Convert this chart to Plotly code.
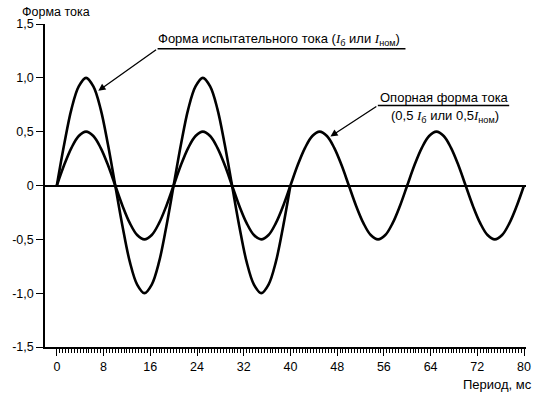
import plotly.graph_objects as go

# ---- data ----
t_ref = [0, 1.25, 2.5, 3.75, 5, 6.25, 7.5, 8.75, 10, 11.25, 12.5, 13.75, 15, 16.25, 17.5, 18.75,
         20, 21.25, 22.5, 23.75, 25, 26.25, 27.5, 28.75, 30, 31.25, 32.5, 33.75, 35, 36.25, 37.5, 38.75,
         40, 41.25, 42.5, 43.75, 45, 46.25, 47.5, 48.75, 50, 51.25, 52.5, 53.75, 55, 56.25, 57.5, 58.75,
         60, 61.25, 62.5, 63.75, 65, 66.25, 67.5, 68.75, 70, 71.25, 72.5, 73.75, 75, 76.25, 77.5, 78.75, 80]
i_ref = [0, 0.19, 0.35, 0.46, 0.5, 0.46, 0.35, 0.19, 0, -0.19, -0.35, -0.46, -0.5, -0.46, -0.35, -0.19,
         0, 0.19, 0.35, 0.46, 0.5, 0.46, 0.35, 0.19, 0, -0.19, -0.35, -0.46, -0.5, -0.46, -0.35, -0.19,
         0, 0.19, 0.35, 0.46, 0.5, 0.46, 0.35, 0.19, 0, -0.19, -0.35, -0.46, -0.5, -0.46, -0.35, -0.19,
         0, 0.19, 0.35, 0.46, 0.5, 0.46, 0.35, 0.19, 0, -0.19, -0.35, -0.46, -0.5, -0.46, -0.35, -0.19, 0]
t_test = [0, 1.25, 2.5, 3.75, 5, 6.25, 7.5, 8.75, 10, 11.25, 12.5, 13.75, 15, 16.25, 17.5, 18.75,
          20, 21.25, 22.5, 23.75, 25, 26.25, 27.5, 28.75, 30, 31.25, 32.5, 33.75, 35, 36.25, 37.5, 38.75, 40]
i_test = [0, 0.38, 0.71, 0.92, 1.0, 0.92, 0.71, 0.38, 0, -0.38, -0.71, -0.92, -1.0, -0.92, -0.71, -0.38,
          0, 0.38, 0.71, 0.92, 1.0, 0.92, 0.71, 0.38, 0, -0.38, -0.71, -0.92, -1.0, -0.92, -0.71, -0.38, 0]

x_tickvals = [0, 8, 16, 24, 32, 40, 48, 56, 64, 72, 80]
x_ticktext = ["0", "8", "16", "24", "32", "40", "48", "56", "64", "72", "80"]
x_minorvals = [k * 0.5 for k in range(161)]
y_tickvals = [-1.5, -1.0, -0.5, 0, 0.5, 1.0, 1.5]
y_ticktext = ["-1,5", "-1,0", "-0,5", "0", "0,5", "1,0", "1,5"]

FONT = "Liberation Sans, Arial, sans-serif"
SERIF = "Liberation Serif"
FS = 12.5
XRANGE = [-2.03, 80.34]

fig = go.Figure()
fig.add_trace(go.Scatter(x=t_test, y=i_test, mode="lines", xaxis="x", yaxis="y",
                         line=dict(color="black", width=2.6, shape="spline", smoothing=1),
                         showlegend=False, hoverinfo="skip"))
fig.add_trace(go.Scatter(x=t_ref, y=i_ref, mode="lines", xaxis="x2", yaxis="y",
                         line=dict(color="black", width=2.6, shape="spline", smoothing=1),
                         showlegend=False, hoverinfo="skip"))

fig.update_layout(
    width=543, height=397,
    margin=dict(l=43, r=13, t=24, b=50),
    paper_bgcolor="white", plot_bgcolor="white",
    font=dict(family=FONT, size=FS, color="black"),
    showlegend=False,
    xaxis=dict(
        range=XRANGE, showgrid=False, zeroline=False,
        showline=True, linecolor="black", linewidth=1.8,
        ticks="outside", ticklen=7, tickwidth=1.2, tickcolor="black",
        tickmode="array", tickvals=x_tickvals, ticktext=x_ticktext,
        tickfont=dict(size=FS),
    ),
    xaxis2=dict(
        range=XRANGE, overlaying="x", anchor="y", side="bottom",
        showgrid=False, zeroline=False, showline=False,
        ticks="outside", ticklen=5, tickwidth=1, tickcolor="black",
        tickmode="array", tickvals=x_minorvals, showticklabels=False,
    ),
    yaxis=dict(
        range=[-1.5, 1.5], showgrid=False,
        zeroline=True, zerolinecolor="black", zerolinewidth=1.5,
        showline=True, linecolor="black", linewidth=1.5,
        ticks="outside", ticklen=7, tickwidth=1.2, tickcolor="black",
        tickmode="array", tickvals=y_tickvals, ticktext=y_ticktext,
        tickfont=dict(size=FS),
    ),
)

italI = "<span style=\"font-family:'%s'\"><i>I</i></span>" % SERIF

annots = [
    # axis titles
    dict(text="Форма тока", xref="paper", yref="paper", x=-0.053, y=1.0, yshift=12,
         xanchor="left", yanchor="middle", showarrow=False, font=dict(size=FS)),
    dict(text="Период, мс", xref="paper", yref="paper", x=1.0, y=0, yshift=-37, xshift=8,
         xanchor="right", yanchor="middle", showarrow=False, font=dict(size=13)),
    # label 1
    dict(text="Форма испытательного тока (" + italI + "<sub>б</sub> или " + italI + "<sub>ном</sub>)",
         xref="x", yref="y", x=38.0, y=1.36, xanchor="center", yanchor="middle",
         showarrow=False, font=dict(size=13)),
    dict(text="", xref="x", yref="y", x=7.1, y=0.88, axref="x", ayref="y", ax=17.25, ay=1.27,
         showarrow=True, arrowhead=2, arrowsize=1.1, arrowwidth=1.3, arrowcolor="black"),
    # label 2
    dict(text="Опорная форма тока", xref="x", yref="y", x=66.3, y=0.82,
         xanchor="center", yanchor="middle", showarrow=False, font=dict(size=13)),
    dict(text="(0,5 " + italI + "<sub>б</sub> или 0,5" + italI + "<sub>ном</sub>)",
         xref="x", yref="y", x=66.5, y=0.645, xanchor="center", yanchor="middle",
         showarrow=False, font=dict(size=13)),
    dict(text="", xref="x", yref="y", x=46.85, y=0.455, axref="x", ayref="y", ax=54.97, ay=0.743,
         showarrow=True, arrowhead=2, arrowsize=1.1, arrowwidth=1.3, arrowcolor="black"),
]
fig.update_layout(annotations=annots)

fig.add_shape(type="line", xref="x", yref="y", x0=17.25, x1=59.7, y0=1.27, y1=1.27,
              line=dict(color="black", width=1.6))
fig.add_shape(type="line", xref="x", yref="y", x0=54.97, x1=77.46, y0=0.743, y1=0.743,
              line=dict(color="black", width=1.6))

fig.write_html("out.html", config={"displayModeBar": False},
               post_script="document.body.style.margin='0';document.body.style.padding='0';")
